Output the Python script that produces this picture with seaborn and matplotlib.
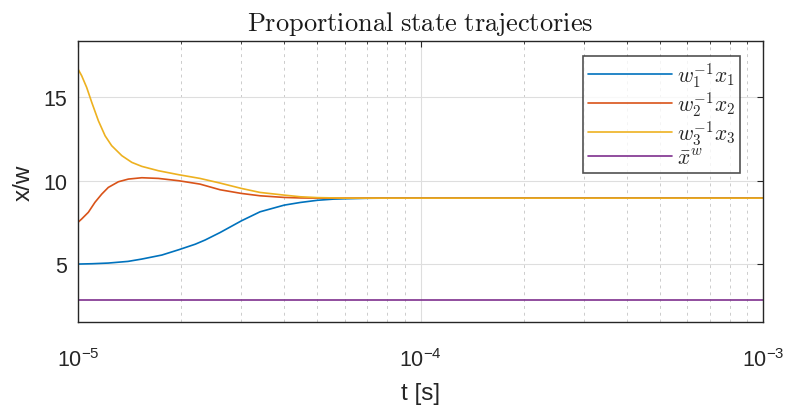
import numpy as np
import pandas as pd
import matplotlib
matplotlib.use("Agg")
import matplotlib.pyplot as plt
import seaborn as sns
from matplotlib.ticker import LogLocator, FixedLocator, FixedFormatter, NullFormatter

# ---- data ----
t1 = [1.0e-5, 1.1e-5, 1.226e-5, 1.4e-5, 1.536e-5, 1.757e-5, 1.97e-5, 2.2e-5, 2.35e-5,
      2.6e-5, 3.0e-5, 3.4e-5, 4.0e-5, 4.46e-5, 5.0e-5, 5.57e-5, 6.0e-5, 7.0e-5, 8.0e-5, 1.0e-3]
x1 = [5.01, 5.03, 5.07, 5.17, 5.31, 5.55, 5.87, 6.2, 6.45,
      6.9, 7.6, 8.14, 8.54, 8.7, 8.83, 8.9, 8.92, 8.95, 8.96, 8.96]
t2 = [1.0e-5, 1.025e-5, 1.072e-5, 1.121e-5, 1.173e-5, 1.226e-5, 1.312e-5, 1.403e-5, 1.536e-5,
      1.717e-5, 1.97e-5, 2.27e-5, 2.6e-5, 3.0e-5, 3.4e-5, 4.0e-5, 4.46e-5, 5.0e-5, 6.0e-5, 1.0e-3]
x2 = [7.51, 7.71, 8.11, 8.71, 9.2, 9.6, 9.94, 10.1, 10.18,
      10.14, 10.0, 9.8, 9.46, 9.24, 9.1, 9.0, 8.97, 8.96, 8.96, 8.96]
t3 = [1.0e-5, 1.025e-5, 1.06e-5, 1.097e-5, 1.147e-5, 1.2e-5, 1.254e-5, 1.343e-5, 1.436e-5,
      1.536e-5, 1.717e-5, 1.97e-5, 2.27e-5, 2.6e-5, 3.0e-5, 3.4e-5, 4.0e-5, 4.46e-5, 5.0e-5,
      6.0e-5, 1.0e-3]
x3 = [16.69, 16.29, 15.59, 14.69, 13.59, 12.69, 12.1, 11.5, 11.1,
      10.86, 10.6, 10.36, 10.14, 9.86, 9.54, 9.3, 9.14, 9.04, 8.99,
      8.96, 8.96]
t4 = [1.0e-5, 1.0e-3]
x4 = [2.85, 2.85]
series_labels = [r'$w_1^{-1}x_1$', r'$w_2^{-1}x_2$', r'$w_3^{-1}x_3$', r'$\bar{x}^w$']
colors = ['#0072BD', '#D95319', '#EDB120', '#7E2F8E']
xtick_vals = [1e-5, 1e-4, 1e-3]
xtick_labels = [r'$10^{-5}$', r'$10^{-4}$', r'$10^{-3}$']
ytick_vals = [5, 10, 15]

sns.set_style("white")
plt.rcParams['font.family'] = ['Liberation Sans', 'DejaVu Sans']
plt.rcParams['mathtext.fontset'] = 'custom'
plt.rcParams['mathtext.rm'] = 'Liberation Sans'
plt.rcParams['mathtext.it'] = 'Liberation Sans:italic'

frames = []
for t, v, lab in zip([t1, t2, t3, t4], [x1, x2, x3, x4], series_labels):
    frames.append(pd.DataFrame({'t': t, 'v': v, 's': lab}))
df = pd.concat(frames, ignore_index=True)

fig = plt.figure(figsize=(7.85, 4.10), dpi=100)
ax = fig.add_axes([78/785, 1 - 323/410, (763 - 78)/785, (323 - 42)/410])

sns.lineplot(data=df, x='t', y='v', hue='s', hue_order=series_labels,
             palette=colors, linewidth=1.2, ax=ax, estimator=None, sort=False)
ax.set_xscale('log')
ax.set_xlim(1e-5, 1e-3)
ax.set_ylim(1.54, 18.37)

ax.xaxis.set_major_locator(FixedLocator(xtick_vals))
ax.xaxis.set_major_formatter(FixedFormatter(xtick_labels))
ax.xaxis.set_minor_locator(LogLocator(base=10, subs=np.arange(2, 10)))
ax.xaxis.set_minor_formatter(NullFormatter())
ax.set_yticks(ytick_vals)

ax.grid(True, which='major', color='#dedede', linewidth=0.8, linestyle='-')
ax.grid(True, which='minor', axis='x', color='#cccccc', linewidth=0.7, linestyle=(0, (3, 4)))
ax.set_axisbelow(True)

ax.tick_params(axis='x', which='major', direction='in', length=4, width=0.8,
               top=True, labelsize=15.5, colors='#262626', pad=19)
ax.tick_params(axis='y', which='major', direction='in', length=4, width=0.8,
               right=True, labelsize=15.5, colors='#262626', pad=8)
ax.tick_params(axis='x', which='minor', direction='in', length=2, top=True, color='#262626')
for sp in ax.spines.values():
    sp.set_color('#262626')
    sp.set_linewidth(1.0)

ax.set_xlabel('t [s]', fontsize=17.5, color='#262626', labelpad=8)
ax.set_ylabel('x/w', fontsize=17.5, color='#262626', labelpad=6)
ax.set_title(r'$\mathrm{Proportional\ state\ trajectories}$', fontsize=19,
             math_fontfamily='cm', color='#1a1a1a', pad=8)

leg = ax.legend(loc='upper right', fontsize=15.5, frameon=True, fancybox=False,
                edgecolor='#262626', handlelength=3.9, labelspacing=0.0,
                borderpad=0.2, handletextpad=0.25, borderaxespad=0,
                bbox_to_anchor=(0.9664, 0.9466))
leg.get_frame().set_linewidth(1.2)
for txt in leg.get_texts():
    txt.set_math_fontfamily('cm')

fig.savefig('out.png', dpi=100)
